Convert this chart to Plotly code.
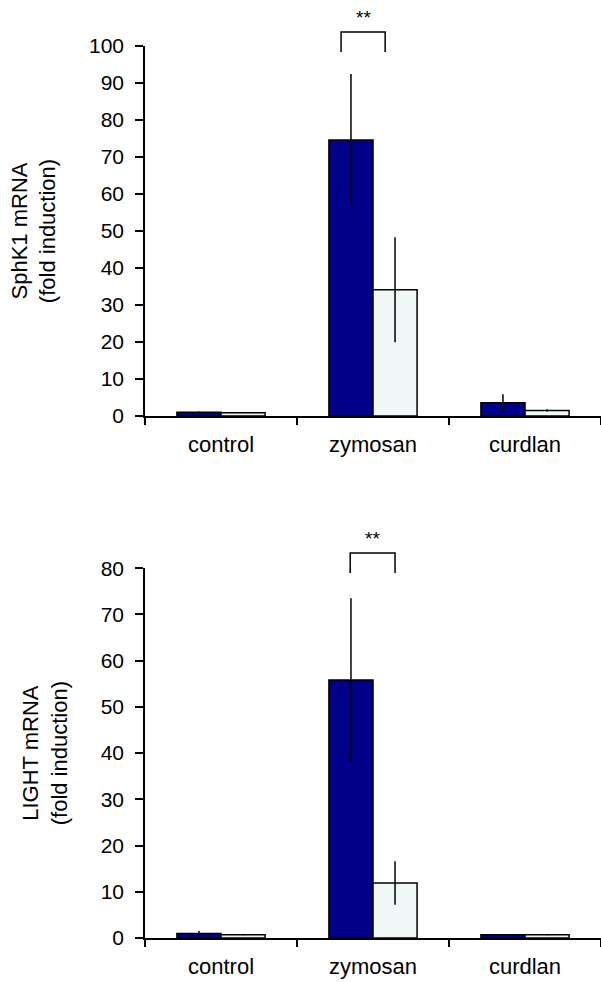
import plotly.graph_objects as go

categories = ["control", "zymosan", "curdlan"]

# Top panel: SphK1 mRNA (fold induction)
sphk1_dark = [1.0, 74.6, 3.6]
sphk1_dark_err = [0.2, 17.8, 2.3]
sphk1_light = [0.9, 34.1, 1.5]
sphk1_light_err = [0.1, 14.2, 0.3]

# Bottom panel: LIGHT mRNA (fold induction)
light_dark = [1.0, 55.8, 0.7]
light_dark_err = [0.5, 17.7, 0.1]
light_light = [0.7, 11.9, 0.7]
light_light_err = [0.1, 4.7, 0.1]

# significance brackets (category-index units, values)
top_bracket_x = [0.79, 1.08]
top_bracket_y = [98.4, 103.8]
bot_bracket_x = [0.85, 1.145]
bot_bracket_y = [79.0, 83.3]
sig_label = "**"

DARK = "#000088"
LIGHT = "#F0F8F7"
FONT = "Liberation Sans, Arial, sans-serif"

top_dom = [0.5852, 1.0]
bot_dom = [0.0, 0.4145]
top_max = 100
bot_max = 80

fig = go.Figure()

def add_pair(dark, dark_err, light, light_err, xa, ya):
    fig.add_trace(go.Bar(
        x=categories, y=dark, xaxis=xa, yaxis=ya,
        marker=dict(color=DARK, line=dict(color="black", width=1.5)),
        error_y=dict(type="data", array=dark_err, color="black", thickness=1.5, width=0),
        offsetgroup="a", showlegend=False))
    fig.add_trace(go.Bar(
        x=categories, y=light, xaxis=xa, yaxis=ya,
        marker=dict(color=LIGHT, line=dict(color="black", width=1.5)),
        error_y=dict(type="data", array=light_err, color="black", thickness=1.5, width=0),
        offsetgroup="b", showlegend=False))

add_pair(sphk1_dark, sphk1_dark_err, sphk1_light, sphk1_light_err, "x", "y")
add_pair(light_dark, light_dark_err, light_light, light_light_err, "x2", "y2")

def xpaper(idx):
    return (idx + 0.5) / len(categories)

def ypaper(v, dom, vmax):
    return dom[0] + v / vmax * (dom[1] - dom[0])

shapes = []
annotations = []
for bx, by, dom, vmax in [(top_bracket_x, top_bracket_y, top_dom, top_max),
                          (bot_bracket_x, bot_bracket_y, bot_dom, bot_max)]:
    x0, x1 = xpaper(bx[0]), xpaper(bx[1])
    ylo, yhi = ypaper(by[0], dom, vmax), ypaper(by[1], dom, vmax)
    path = f"M {x0} {ylo} L {x0} {yhi} L {x1} {yhi} L {x1} {ylo}"
    shapes.append(dict(type="path", path=path, xref="paper", yref="paper",
                       line=dict(color="black", width=1.5)))
    annotations.append(dict(text=sig_label, xref="paper", yref="paper",
                            x=(x0 + x1) / 2, y=yhi, yanchor="bottom", yshift=2,
                            showarrow=False, font=dict(size=19, color="black", family=FONT)))

xaxis_common = dict(type="category", tickson="boundaries", ticks="outside", ticklen=7,
                    tickwidth=1.5, tickcolor="black", showline=True, linecolor="black",
                    linewidth=1.5, showgrid=False, zeroline=False,
                    tickfont=dict(size=22, color="black", family=FONT),
                    ticklabelstandoff=8, range=[-0.5, 2.5])
yaxis_common = dict(ticks="outside", ticklen=8, tickwidth=1.5, tickcolor="black",
                    showline=True, linecolor="black", linewidth=1.5, showgrid=False,
                    zeroline=False, dtick=10, tickfont=dict(size=21, color="black", family=FONT),
                    ticklabelstandoff=7)

fig.update_layout(
    width=601, height=982,
    margin=dict(l=145, r=0, t=46, b=44),
    paper_bgcolor="white", plot_bgcolor="white",
    barmode="group", bargap=0.42, bargroupgap=0,
    font=dict(family=FONT, color="black"),
    xaxis=dict(anchor="y", domain=[0, 1], **xaxis_common),
    xaxis2=dict(anchor="y2", domain=[0, 1], **xaxis_common),
    yaxis=dict(anchor="x", domain=top_dom, range=[0, top_max],
               title=dict(text="SphK1 mRNA<br>(fold induction)", standoff=27,
                          font=dict(size=22, color="black", family=FONT)),
               **yaxis_common),
    yaxis2=dict(anchor="x2", domain=bot_dom, range=[0, bot_max],
                title=dict(text="LIGHT mRNA<br>(fold induction)", standoff=27,
                           font=dict(size=22, color="black", family=FONT)),
                **yaxis_common),
    shapes=shapes, annotations=annotations,
)

fig.write_html(
    "out.html",
    config={"displayModeBar": False},
    post_script="document.body.style.margin='0';document.body.style.overflow='hidden';",
)
